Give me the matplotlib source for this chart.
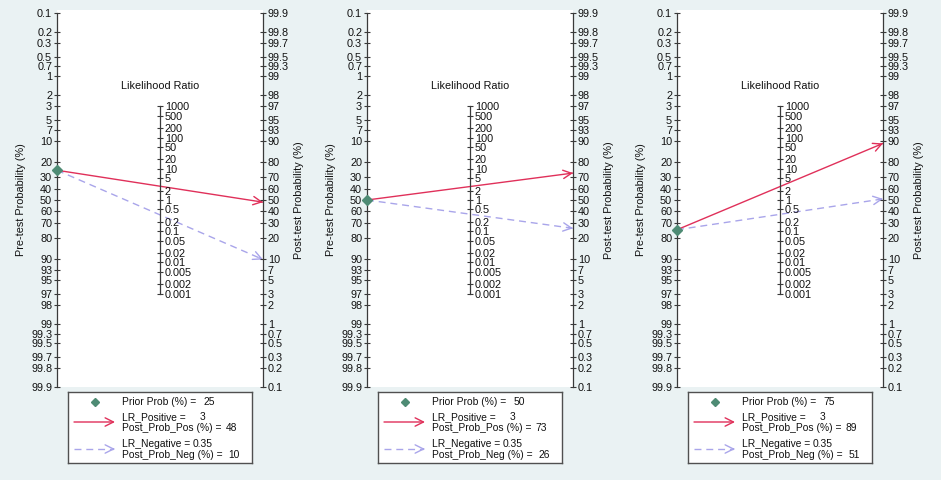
import matplotlib.pyplot as plt
import numpy as np

plt.rcParams['font.family'] = ['Liberation Sans', 'DejaVu Sans']

# цвета
BG = '#eaf2f3'
RED = '#e0305a'
LAV = '#a9a5ea'
GRN = '#4e8b74'
AXC = '#3a3a3a'
TXT = '#111111'

# данные трёх номограмм
prior = [25, 50, 75]  # pre-test probability, %
lr_pos = 3
lr_neg = 0.35
post_pos = [48, 73, 89]
post_neg = [10, 26, 51]

prob_ticks = [0.1, 0.2, 0.3, 0.5, 0.7, 1, 2, 3, 5, 7, 10, 20, 30, 40, 50,
              60, 70, 80, 90, 93, 95, 97, 98, 99, 99.3, 99.5, 99.7, 99.8, 99.9]
lr_ticks = [1000, 500, 200, 100, 50, 20, 10, 5, 2, 1, 0.5, 0.2, 0.1,
            0.05, 0.02, 0.01, 0.005, 0.002, 0.001]


def logit(p):
    p = np.asarray(p, dtype=float)
    return np.log(p / (100 - p))


W, H = 941, 480
VMAX = float(logit(99.9))
SCALE = (387 - 200) / VMAX  # пикселей на единицу логита
VTOP = (200 - 10) / SCALE
FS = 7.8
LFS = 7.4

fig = plt.figure(figsize=(W / 100, H / 100), dpi=100, facecolor=BG)


def px_rect(x, y_top, w, h):
    return [x / W, 1 - (y_top + h) / H, w / W, h / H]


for i in range(3):
    x0 = 57 + 310 * i
    ax = fig.add_axes(px_rect(x0, 10, 206, 377))
    ax.set_facecolor('white')
    ax.set_xlim(0, 1)
    ax.set_ylim(-VMAX, VTOP)
    for s in ['top', 'bottom', 'right']:
        ax.spines[s].set_visible(False)
    ax.spines['left'].set_bounds(-VMAX, VMAX)
    ax.spines['left'].set_color(AXC)
    ax.spines['left'].set_linewidth(0.9)
    ax.set_xticks([])
    ax.set_yticks(-logit(prob_ticks))
    ax.set_yticklabels(['%g' % p for p in prob_ticks])
    ax.tick_params(axis='y', direction='inout', length=4, width=0.8,
                   color=AXC, labelsize=FS, labelcolor=TXT, pad=1.5)

    ax2 = ax.twinx()
    ax2.set_ylim(-VMAX, VTOP)
    for s in ['top', 'bottom', 'left']:
        ax2.spines[s].set_visible(False)
    ax2.spines['right'].set_bounds(-VMAX, VMAX)
    ax2.spines['right'].set_color(AXC)
    ax2.spines['right'].set_linewidth(0.9)
    ax2.set_yticks(logit(prob_ticks))
    ax2.set_yticklabels(['%g' % p for p in prob_ticks])
    ax2.tick_params(axis='y', direction='inout', length=4, width=0.8,
                    color=AXC, labelsize=FS, labelcolor=TXT, pad=1.5)

    # ось отношения правдоподобия посередине
    ax3 = fig.add_axes(px_rect(x0 + 103, 10, 0.001, 377))
    ax3.patch.set_visible(False)
    ax3.set_ylim(-VMAX, VTOP)
    for s in ['top', 'bottom', 'left']:
        ax3.spines[s].set_visible(False)
    lr_lo = np.log(min(lr_ticks)) / 2
    lr_hi = np.log(max(lr_ticks)) / 2
    ax3.spines['right'].set_bounds(lr_lo, lr_hi)
    ax3.spines['right'].set_color(AXC)
    ax3.spines['right'].set_linewidth(0.9)
    ax3.set_xticks([])
    ax3.yaxis.tick_right()
    ax3.set_yticks(np.log(lr_ticks) / 2)
    ax3.set_yticklabels(['%g' % v for v in lr_ticks])
    ax3.tick_params(axis='y', direction='inout', length=4, width=0.8,
                    color=AXC, labelsize=FS, labelcolor=TXT, pad=1.5)

    ax.text(0.5, (200 - 86) / SCALE, 'Likelihood Ratio', ha='center',
            va='center', fontsize=FS, color=TXT)
    tr = ax.get_yaxis_transform()
    ax.text(-36 / 206, 0, 'Pre-test Probability (%)', rotation=90,
            ha='center', va='center', fontsize=FS, color=TXT, transform=tr)
    ax.text(1 + 36 / 206, 0, 'Post-test Probability (%)', rotation=90,
            ha='center', va='center', fontsize=FS, color=TXT, transform=tr,
            clip_on=False)

    y0 = -float(logit(prior[i]))
    yp = float(logit(post_pos[i]))
    yn = float(logit(post_neg[i]))
    ax.plot([0, 1], [y0, yn], color=LAV, lw=1, dashes=(5, 3.5),
            clip_on=False, zorder=3)
    ax.plot([0, 1], [y0, yp], color=RED, lw=1, clip_on=False, zorder=3)
    for yy, col in [(yp, RED), (yn, LAV)]:
        ax.annotate('', xy=(1, yy), xytext=(0.98, yy - 0.02 * (yy - y0)),
                    arrowprops=dict(arrowstyle='->, head_length=0.6, head_width=0.3',
                                    color=col, lw=1, shrinkA=0, shrinkB=0),
                    annotation_clip=False, zorder=4)
    ax.plot([0], [y0], marker='D', ms=5, color=GRN, clip_on=False, zorder=5)

    # легенда
    lg = fig.add_axes(px_rect(x0 + 11, 392, 184, 71))
    lg.set_xlim(0, 184)
    lg.set_ylim(71, 0)
    lg.set_xticks([])
    lg.set_yticks([])
    lg.set_facecolor('white')
    for s in lg.spines.values():
        s.set_color('#505050')
        s.set_linewidth(1)
    lg.plot([27], [10], marker='D', ms=4.5, color=GRN)
    lg.text(54, 10, 'Prior Prob (%) =', va='center', fontsize=LFS, color=TXT)
    lg.text(147, 10, '%g' % prior[i], va='center', ha='right', fontsize=LFS, color=TXT)
    lg.annotate('', xy=(47, 30), xytext=(6, 30),
                arrowprops=dict(arrowstyle='->, head_length=0.6, head_width=0.3',
                                color=RED, lw=1, shrinkA=0, shrinkB=0))
    lg.text(54, 25, 'LR_Positive =', va='center', fontsize=LFS, color=TXT)
    lg.text(137, 25, '%g' % lr_pos, va='center', ha='right', fontsize=LFS, color=TXT)
    lg.text(54, 36, 'Post_Prob_Pos (%) =', va='center', fontsize=LFS, color=TXT)
    lg.text(169, 36, '%g' % post_pos[i], va='center', ha='right', fontsize=LFS, color=TXT)
    lg.plot([6, 45], [57, 57], color=LAV, lw=1, dashes=(5, 3.5))
    lg.annotate('', xy=(47, 57), xytext=(45, 57),
                arrowprops=dict(arrowstyle='->, head_length=0.6, head_width=0.3',
                                color=LAV, lw=1, shrinkA=0, shrinkB=0))
    lg.text(54, 52, 'LR_Negative =', va='center', fontsize=LFS, color=TXT)
    lg.text(145, 52, '%g' % lr_neg, va='center', ha='right', fontsize=LFS, color=TXT)
    lg.text(54, 63, 'Post_Prob_Neg (%) =', va='center', fontsize=LFS, color=TXT)
    lg.text(172, 63, '%g' % post_neg[i], va='center', ha='right', fontsize=LFS, color=TXT)

fig.savefig('out.png', dpi=100, facecolor=BG)
